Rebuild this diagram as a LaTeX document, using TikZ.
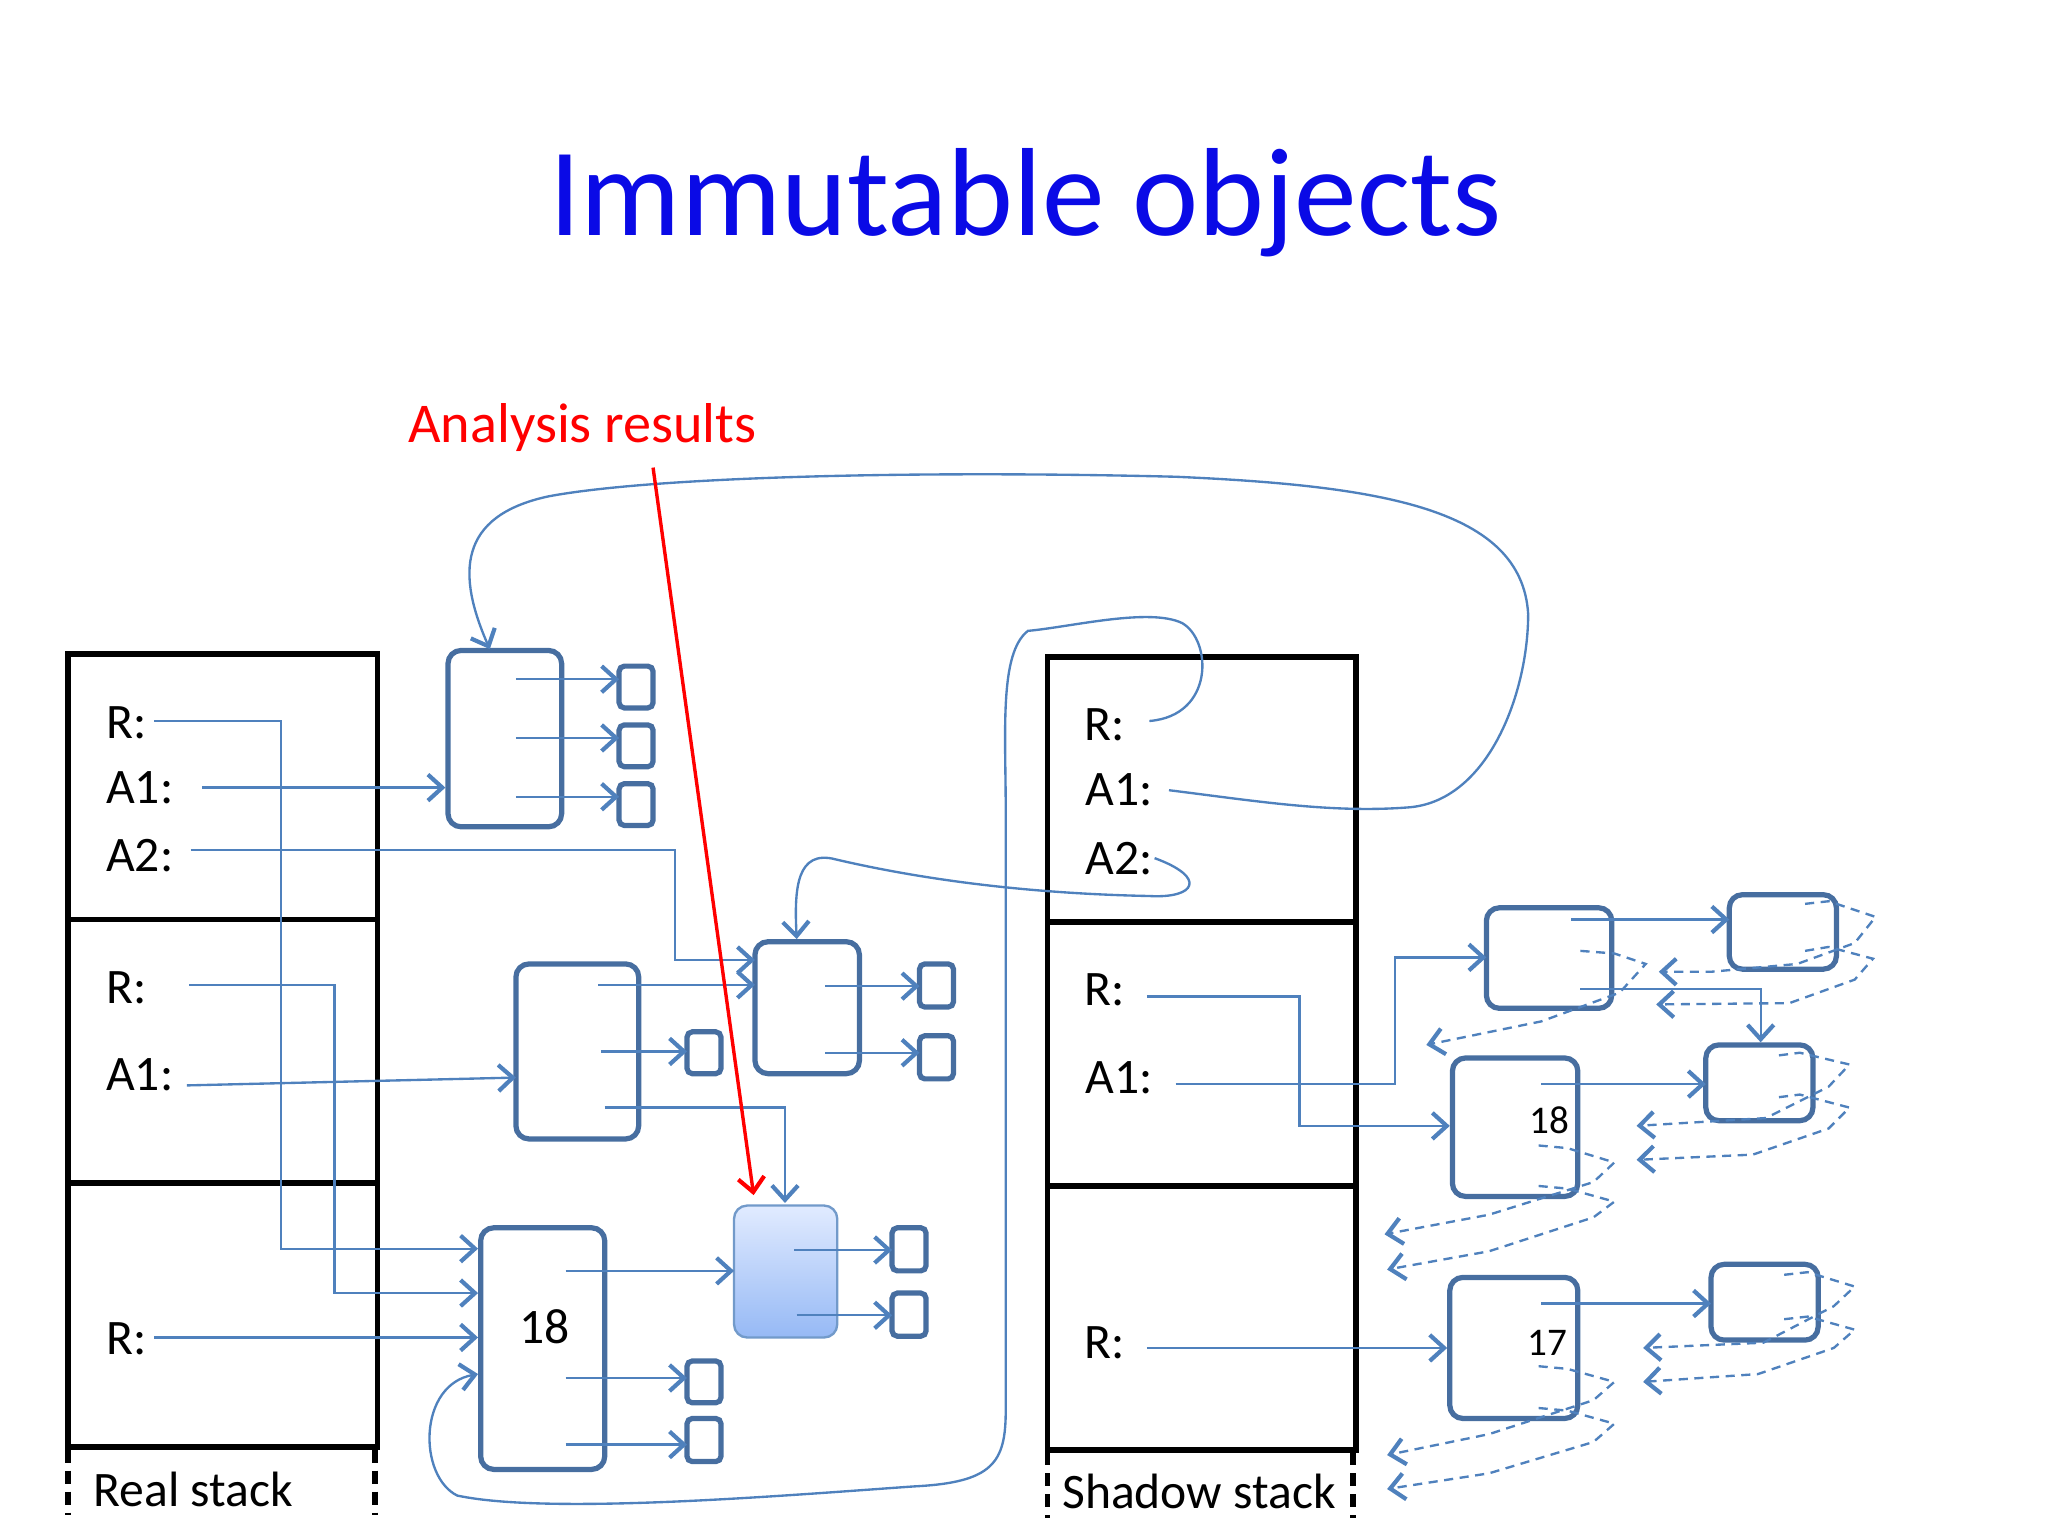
\documentclass[tikz,border=0pt]{standalone}
\usepackage{fontspec}
\setmainfont{Carlito}
\usetikzlibrary{arrows.meta}
\definecolor{boxc}{RGB}{71,110,160}
\definecolor{linec}{RGB}{79,129,189}
\definecolor{titlec}{RGB}{10,10,230}
\definecolor{hitop}{RGB}{225,235,255}
\definecolor{hibot}{RGB}{150,185,245}
\tikzset{
  obj/.style={draw=boxc, line width=4pt, rounded corners=10pt},
  sm/.style={draw=boxc, line width=4pt, rounded corners=4pt},
  ptr/.style={draw=linec, line width=1.8pt, -{Straight Barb[length=11pt,width=20pt,line width=3.2pt]}},
  back/.style={ptr, dashed, dash pattern=on 7pt off 5pt},
  lab/.style={font=\fontsize{38}{44}\selectfont, anchor=center},
  frame/.style={draw=black, line width=4.5pt},
}
\begin{document}
\begin{tikzpicture}[x=1pt,y=-1pt]
\useasboundingbox (0,0) rectangle (1568,1176);
\node[font=\fontsize{96}{110}\selectfont, text=titlec] (title) at (785,155) {Immutable objects};

% real stack
\draw[frame] (52,501) rectangle (289,1108);
\draw[frame] (52,704) -- (289,704) (52,906) -- (289,906);
\draw[black, line width=4.5pt, dash pattern=on 10pt off 6pt] (52,1110) -- (52,1160) (287,1110) -- (287,1160);
\node[lab] (rs) at (148,1140) {Real stack};
% shadow stack
\draw[frame] (802,503) rectangle (1038,1110);
\draw[frame] (802,706) -- (1038,706) (802,908) -- (1038,908);
\draw[black, line width=4.5pt, dash pattern=on 10pt off 6pt] (802,1112) -- (802,1162) (1036,1112) -- (1036,1162);
\node[lab] (ss) at (918,1142) {Shadow stack};

% labels
\node[lab] (r1) at (97,553) {R:};
\node[lab] (a11) at (107,603) {A1:};
\node[lab] (a21) at (107,655) {A2:};
\node[lab] (r2) at (97,756) {R:};
\node[lab] (a12) at (107,823) {A1:};
\node[lab] (r3) at (97,1025) {R:};
\node[lab] (sr1) at (846,555) {R:};
\node[lab] (sa11) at (857,605) {A1:};
\node[lab] (sa21) at (857,657) {A2:};
\node[lab] (sr2) at (846,758) {R:};
\node[lab] (sa12) at (857,825) {A1:};
\node[lab] (sr3) at (846,1028) {R:};

% objects left
\draw[obj] (343,498) rectangle (430,633);
\draw[sm] (474,510) rectangle (500,542) (474,555) rectangle (500,587) (474,600) rectangle (500,632);
\draw[obj] (395,738) rectangle (489,872);
\draw[sm] (526,790) rectangle (552,822);
\draw[obj] (578,721) rectangle (658,822);
\draw[sm] (704,738) rectangle (730,771) (704,793) rectangle (730,826);
\draw[obj] (368,940) rectangle (463,1125);
\node[lab] (n18) at (417,1016) {18};
\draw[sm] (526,1042) rectangle (552,1074) (526,1086) rectangle (552,1119);
\shade[top color=hitop, bottom color=hibot, draw=linec!80, line width=1.8pt, rounded corners=10pt] (562,923) rectangle (641,1024);
\draw[sm] (683,940) rectangle (709,973) (683,990) rectangle (709,1023);

% pointers left
\draw[ptr] (395,520) -- (474,520);
\draw[ptr] (395,565) -- (474,565);
\draw[ptr] (395,610) -- (474,610);
\draw[ptr] (155,603) -- (341,603);
\draw[ptr] (118,552) -- (215,552) -- (215,956) -- (366,956);
\draw[ptr] (146,651) -- (517,651) -- (517,735) -- (578,735);
\draw[ptr] (145,754) -- (256,754) -- (256,990) -- (366,990);
\draw[ptr] (143,831) -- (395,825);
\draw[ptr] (458,754) -- (578,754);
\draw[ptr] (460,805) -- (526,805);
\draw[ptr] (463,848) -- (601,848) -- (601,921);
\draw[ptr] (632,755) -- (704,755);
\draw[ptr] (632,806) -- (704,806);
\draw[ptr] (118,1024) -- (366,1024);
\draw[ptr] (433,973) -- (562,973);
\draw[ptr] (433,1055) -- (526,1055);
\draw[ptr] (433,1106) -- (526,1106);
\draw[ptr] (608,957) -- (683,957);
\draw[ptr] (610,1007) -- (683,1007);

% long curves from shadow stack
\draw[ptr] (884,657) .. controls (925,672) and (915,688) .. (880,686)
  .. controls (780,684) and (700,672) .. (640,658)
  .. controls (610,650) and (608,680) .. (610,719);
\draw[ptr] (880,552) .. controls (930,548) and (928,490) .. (905,477)
  .. controls (880,465) and (820,480) .. (787,483)
  .. controls (765,500) and (770,560) .. (770,620)
  -- (770,1080) .. controls (770,1120) and (760,1135) .. (700,1138)
  .. controls (600,1145) and (420,1160) .. (350,1145)
  .. controls (320,1130) and (320,1060) .. (366,1052);
\draw[ptr] (895,605) .. controls (960,613) and (1020,623) .. (1080,618)
  .. controls (1140,612) and (1170,530) .. (1170,470)
  .. controls (1165,390) and (1060,372) .. (900,365)
  .. controls (700,360) and (500,365) .. (420,380)
  .. controls (350,395) and (350,440) .. (375,497);

% analysis results
\node[font=\fontsize{43}{50}\selectfont, text=red] (ar) at (446,327) {Analysis results};
\draw[red, line width=2.6pt, -{Straight Barb[length=11pt,width=20pt,line width=3.2pt]}] (500,358) -- (577,915);

% right side objects
\draw[obj] (1138,695) rectangle (1234,772);
\draw[obj] (1324,685) rectangle (1406,742);
\draw[obj] (1112,810) rectangle (1208,916);
\node[font=\fontsize{30}{34}\selectfont] (m18) at (1186,858) {18};
\draw[obj] (1306,800) rectangle (1388,858);
\draw[obj] (1110,978) rectangle (1208,1086);
\node[font=\fontsize{30}{34}\selectfont] (m17) at (1185,1028) {17};
\draw[obj] (1310,968) rectangle (1392,1026);

\draw[ptr] (878,763) -- (995,763) -- (995,862) -- (1110,862);
\draw[ptr] (900,830) -- (1068,830) -- (1068,733) -- (1138,733);
\draw[ptr] (1203,704) -- (1324,704);
\draw[ptr] (1210,757) -- (1348,757) -- (1348,798);
\draw[ptr] (1180,830) -- (1306,830);
\draw[ptr] (878,1032) -- (1108,1032);
\draw[ptr] (1180,998) -- (1310,998);

% dashed back pointers
\draw[back] (1382,692) -- (1400,690) -- (1436,702) -- (1420,722) -- (1376,738) -- (1310,744) -- (1270,744);
\draw[back] (1382,728) -- (1400,725) -- (1434,734) -- (1420,750) -- (1370,768) -- (1268,769);
\draw[back] (1210,728) -- (1236,730) -- (1260,738) -- (1240,760) -- (1180,782) -- (1092,800);
\draw[back] (1362,808) -- (1378,806) -- (1416,815) -- (1400,832) -- (1352,856) -- (1253,862);
\draw[back] (1362,840) -- (1378,838) -- (1416,848) -- (1400,864) -- (1342,884) -- (1253,888);
\draw[back] (1178,877) -- (1200,879) -- (1236,890) -- (1220,905) -- (1140,930) -- (1060,945);
\draw[back] (1178,908) -- (1200,910) -- (1236,920) -- (1220,932) -- (1140,958) -- (1062,972);
\draw[back] (1366,976) -- (1384,974) -- (1420,985) -- (1404,1000) -- (1350,1028) -- (1258,1032);
\draw[back] (1366,1010) -- (1384,1008) -- (1420,1018) -- (1404,1032) -- (1346,1052) -- (1258,1058);
\draw[back] (1178,1046) -- (1200,1048) -- (1236,1058) -- (1220,1072) -- (1140,1098) -- (1062,1114);
\draw[back] (1178,1078) -- (1200,1080) -- (1236,1090) -- (1220,1104) -- (1140,1128) -- (1062,1140);
\end{tikzpicture}
\end{document}
